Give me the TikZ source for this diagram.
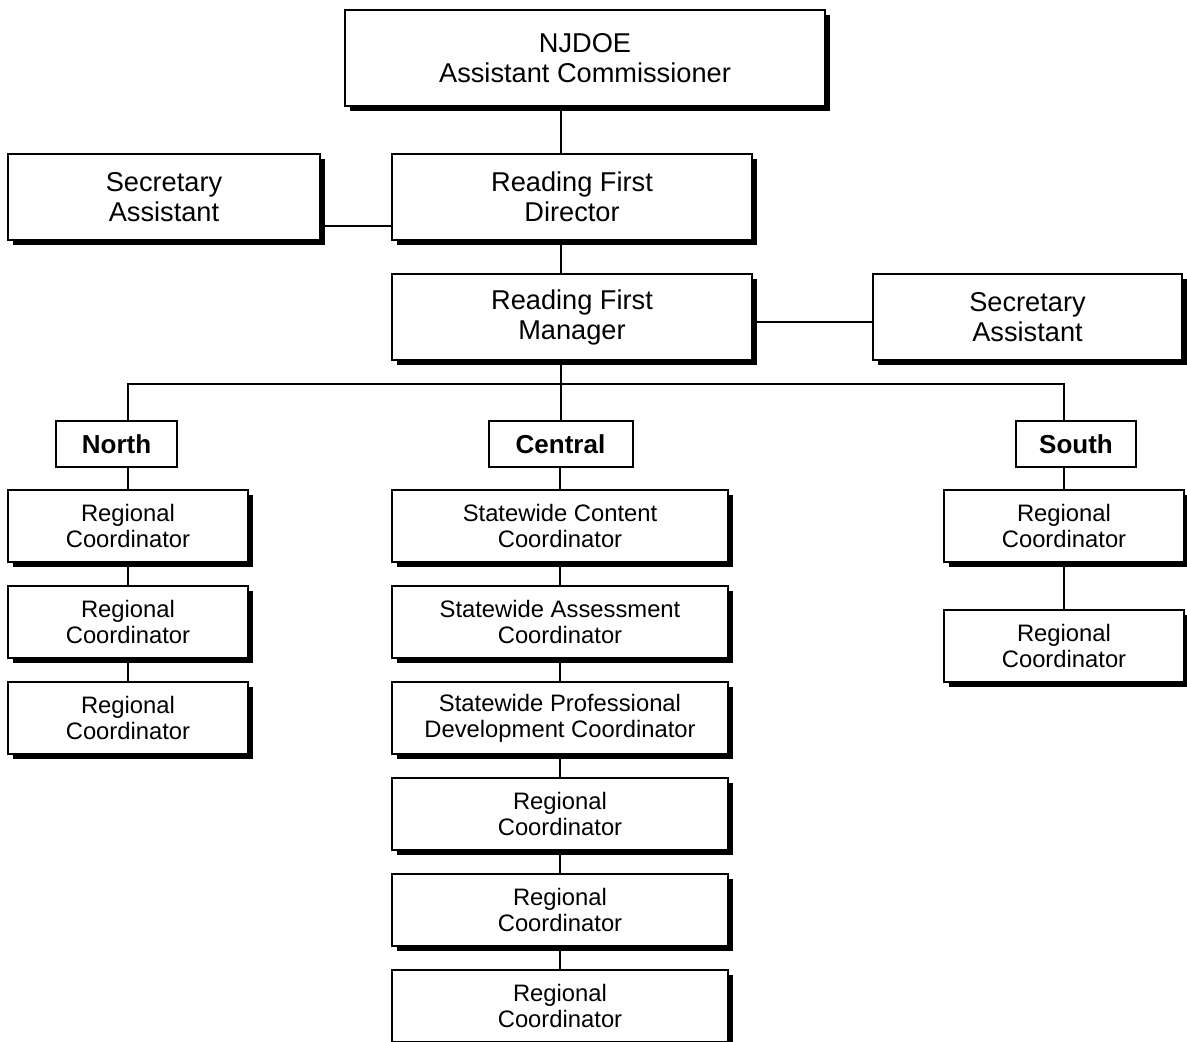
\documentclass[tikz,border=0pt]{standalone}
\usepackage{fontspec}
\setmainfont{Liberation Sans}
\usepackage{tikz}
\usetikzlibrary{positioning,shadows}

\begin{document}
\begin{tikzpicture}[
  x=0.5pt,y=-0.5pt,
  post/.style={draw,line width=1pt,fill=white,align=center,inner sep=0pt,
               drop shadow={shadow xshift=2.5pt,shadow yshift=-2.5pt,fill=black,opacity=1},
               font=\fontsize{13.6}{15}\selectfont,minimum height=43pt},
  staff/.style={post,font=\fontsize{11.9}{13}\selectfont,minimum height=36pt,
                execute at begin node={\rule{0pt}{12.5pt}}},
  region/.style={draw,line width=1pt,fill=white,inner sep=0pt,
                 font=\fontsize{13}{15}\selectfont\bfseries,minimum height=23pt},
  link/.style={line width=0.75pt}
]
  \useasboundingbox (0,0) rectangle (1187,1042);

  % top of the chart
  \node[post,minimum width=240pt,minimum height=48pt,execute at begin node={\rule{0pt}{13.5pt}}] (njdoe) at (585,58) {NJDOE\\Assistant Commissioner};
  \node[post,minimum width=180pt] (dir) at (572,197) {Reading First\\Director};
  \node[post,minimum width=156pt] (secl) at (164,197) {Secretary\\Assistant};
  \node[post,minimum width=180pt] (mgr) at (572,317) {Reading First\\Manager};
  \node[post,minimum width=154.5pt] (secr) at (1027.5,317) {Secretary\\Assistant};

  % regions
  \node[region,minimum width=60.5pt] (north) at (116.5,444) {North};
  \node[region,minimum width=72pt] (cent) at (560.5,444) {Central};
  \node[region,minimum width=60pt] (south) at (1076,444) {South};

  \foreach \i/\y in {1/526,2/622,3/718}
    \node[staff,minimum width=120pt] (nrc\i) at (128,\y) {Regional\\Coordinator};

  \node[staff,minimum width=168pt] (crc1) at (560,526) {Statewide Content\\Coordinator};
  \node[staff,minimum width=168pt] (crc2) at (560,622) {Statewide Assessment\\Coordinator};
  \node[staff,minimum width=168pt] (crc3) at (560,718) {Statewide Professional\\Development Coordinator};
  \foreach \i/\y in {4/814,5/910,6/1006}
    \node[staff,minimum width=168pt] (crc\i) at (560,\y) {Regional\\Coordinator};

  \node[staff,minimum width=120pt] (src1) at (1064,526) {Regional\\Coordinator};
  \node[staff,minimum width=120pt] (src2) at (1064,646) {Regional\\Coordinator};

  \coordinate (bus) at (561,384);

  \draw[link] (njdoe.south -| bus) -- (dir.north -| bus);
  \draw[link] (dir.south -| bus) -- (mgr.north -| bus);
  \draw[link] ([yshift=-14.5pt]secl.east) -- ([yshift=-14.5pt]secl.east -| dir.west);
  \draw[link] ([yshift=-2.5pt]mgr.east) -- ([yshift=-2.5pt]mgr.east -| secr.west);
  \draw[link] (mgr.south -| bus) -- (bus);
  \draw[link] (north.north -| nrc1.north) |- (bus) -| (south.north -| src1.north);
  \draw[link] (bus) -- (cent.north -| bus);

  \draw[link] (north.south -| nrc1.north) -- (nrc1.north);
  \draw[link] (cent.south -| crc1.north) -- (crc1.north);
  \draw[link] (south.south -| src1.north) -- (src1.north);
  \foreach \a/\b in {1/2,2/3}
    \draw[link] (nrc\a.south) -- (nrc\b.north);
  \foreach \a/\b in {1/2,2/3,3/4,4/5,5/6}
    \draw[link] (crc\a.south) -- (crc\b.north);
  \draw[link] (src1.south) -- (src2.north);
\end{tikzpicture}
\end{document}
